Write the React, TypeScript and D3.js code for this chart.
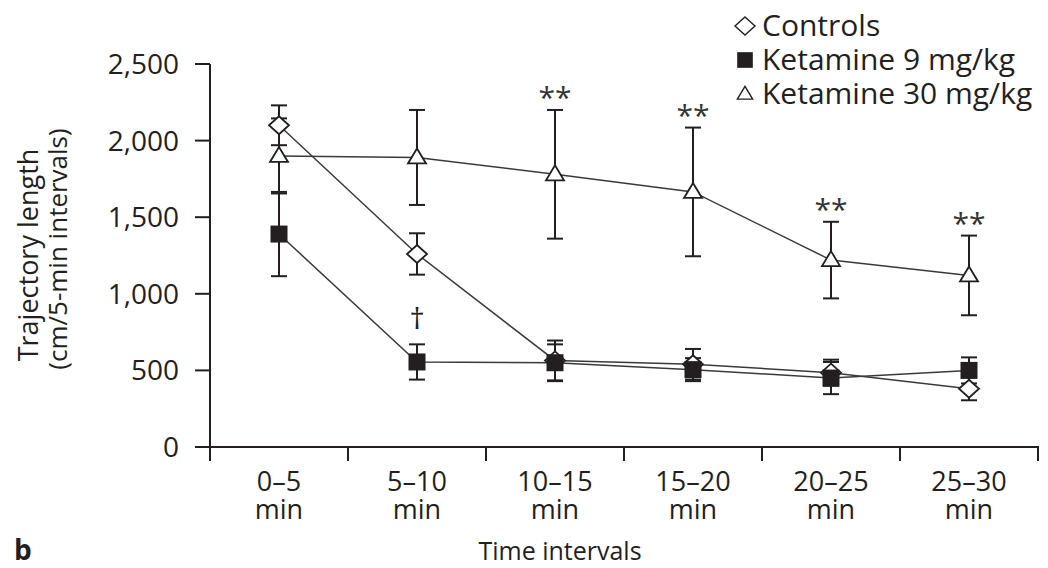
import React from 'react';
import * as d3 from 'd3';

// time bins on the x axis
const intervals = ['0–5', '5–10', '10–15', '15–20', '20–25', '25–30'];

// means and SEM (cm / 5-min interval)
const controlsMean = [2100, 1260, 565, 540, 485, 380];
const controlsErr = [130, 135, 130, 100, 85, 75];
const ket9Mean = [1390, 555, 550, 505, 450, 500];
const ket9Err = [275, 115, 120, 75, 105, 85];
const ket30Mean = [1900, 1890, 1780, 1665, 1220, 1120];
const ket30Err = [245, 310, 420, 420, 250, 260];

const yTicks = [0, 500, 1000, 1500, 2000, 2500];

// significance marks: which bins
const starBins = [2, 3, 4, 5];
const daggerBins = [1];

const FONT = '"Open Sans", sans-serif';
const INK = '#231f20';

const x = d3.scaleBand().domain(intervals).range([210, 1038]).padding(0);
const y = d3.scaleLinear().domain([0, 2500]).range([447, 64]);
const cx = (d: string) => (x(d) as number) + x.bandwidth() / 2;

const series = [
  { name: 'Controls', mean: controlsMean, err: controlsErr, shape: 'diamond' },
  { name: 'Ketamine 9 mg/kg', mean: ket9Mean, err: ket9Err, shape: 'square' },
  { name: 'Ketamine 30 mg/kg', mean: ket30Mean, err: ket30Err, shape: 'triangle' },
];

const Marker = ({ shape, px, py, s = 1, sw = 1.8 }: any) => {
  if (shape === 'diamond') {
    const w = 10 * s, h = 9 * s;
    return <path d={`M${px},${py - h}L${px + w},${py}L${px},${py + h}L${px - w},${py}Z`} fill="#fff" stroke={INK} strokeWidth={sw} />;
  }
  if (shape === 'square') {
    return <rect x={px - 8.5 * s} y={py - 8.5 * s} width={17 * s} height={17 * s} fill={INK} />;
  }
  const w = 9 * s, h = 15 * s;
  return <path d={`M${px},${py - h * 0.6}L${px + w},${py + h * 0.4}L${px - w},${py + h * 0.4}Z`} fill="#fff" stroke={INK} strokeWidth={sw} />;
};

export default function App() {
  const line = d3.line<number>()
    .x((_, i) => cx(intervals[i]))
    .y(d => y(d));

  return (
    <svg width={1048} height={568} style={{ position: 'absolute', left: 0, top: 0, background: '#fff' }} fontFamily={FONT}>
      {/* y axis */}
      <line x1={210} x2={210} y1={y(2500)} y2={y(0) + 14} stroke={INK} strokeWidth={2} />
      {yTicks.map(t => (
        <g key={t}>
          <line x1={195} x2={210} y1={y(t)} y2={y(t)} stroke={INK} strokeWidth={2} />
          <text x={179} y={y(t)} dy="0.36em" textAnchor="end" fontSize={28} fill={INK}>{d3.format(',')(t)}</text>
        </g>
      ))}
      {/* x axis */}
      <line x1={195} x2={1039} y1={y(0)} y2={y(0)} stroke={INK} strokeWidth={2} />
      {intervals.map((d, i) => (
        <line key={'t' + i} x1={(x(d) as number) + x.bandwidth()} x2={(x(d) as number) + x.bandwidth()} y1={y(0)} y2={y(0) + 14} stroke={INK} strokeWidth={2} />
      ))}
      {intervals.map(d => (
        <g key={'l' + d}>
          <text x={cx(d)} y={491} textAnchor="middle" fontSize={27} fill={INK}>{d}</text>
          <text x={cx(d)} y={519} textAnchor="middle" fontSize={27} fill={INK}>min</text>
        </g>
      ))}
      <text x={560} y={560} textAnchor="middle" fontSize={25} fill={INK}>Time intervals</text>
      <text x={14} y={560} fontSize={28} fontWeight="bold" fill={INK}>b</text>

      {/* y title */}
      <text transform="translate(27,255) rotate(-90)" textAnchor="middle" dominantBaseline="central" fontSize={27} fill={INK}>Trajectory length</text>
      <text transform="translate(57,249) rotate(-90)" textAnchor="middle" dominantBaseline="central" fontSize={26} fill={INK}>(cm/5-min intervals)</text>

      {/* error bars */}
      {series.map(s => s.mean.map((m, i) => {
        const px = cx(intervals[i]);
        const top = y(m + s.err[i]), bot = y(m - s.err[i]);
        return (
          <g key={s.name + i} stroke={INK} strokeWidth={2}>
            <line x1={px} x2={px} y1={top} y2={bot} />
            <line x1={px - 8} x2={px + 8} y1={top} y2={top} />
            <line x1={px - 8} x2={px + 8} y1={bot} y2={bot} />
          </g>
        );
      }))}

      {/* lines */}
      {series.map(s => (
        <path key={'p' + s.name} d={line(s.mean) as string} fill="none" stroke="#3a3a3a" strokeWidth={1.5} />
      ))}

      {/* markers */}
      {series.map(s => s.mean.map((m, i) => (
        <Marker key={'m' + s.name + i} shape={s.shape} px={cx(intervals[i])} py={y(m)} />
      )))}

      {/* significance */}
      {starBins.map(i => (
        <text key={'s' + i} x={cx(intervals[i])} y={y(ket30Mean[i] + ket30Err[i]) - 24} dy="0.75em" textAnchor="middle" fontSize={30} fill="#333">**</text>
      ))}
      {daggerBins.map(i => (
        <text key={'d' + i} x={cx(intervals[i])} y={y(ket9Mean[i] + ket9Err[i]) - 26} dy="0.35em" textAnchor="middle" fontSize={30} fill={INK}>†</text>
      ))}

      {/* legend */}
      {series.map((s, i) => (
        <g key={'lg' + s.name} transform={`translate(0,${36 + i * 34})`}>
          <Marker shape={s.shape} px={745} py={-10} s={s.shape === 'triangle' ? 0.85 : s.shape === 'square' ? 0.92 : 1} sw={1.4} />
          <text x={762} y={0} fontSize={30} fill={INK}>{s.name}</text>
        </g>
      ))}
    </svg>
  );
}
